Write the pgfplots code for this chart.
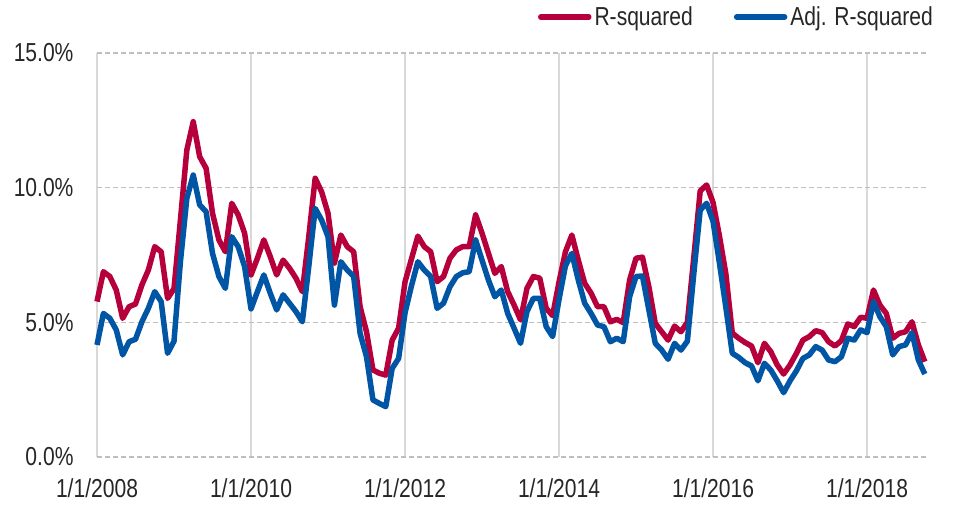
\documentclass[border=0pt]{standalone}
\usepackage{fontspec}
\setmainfont{Liberation Sans}[FakeStretch=0.81]
\usepackage{pgfplots}
\usepackage{pgfplotstable}
\pgfplotsset{compat=1.18}
\definecolor{rsq}{HTML}{B5003C}
\definecolor{arsq}{HTML}{0055A5}
\definecolor{vgrid}{HTML}{D9D9D9}
\definecolor{hgrid}{HTML}{BFBFBF}

\pgfplotstableread{
i r a
0 5.77 4.16
1 6.88 5.33
2 6.70 5.15
3 6.20 4.72
4 5.15 3.79
5 5.58 4.28
6 5.68 4.37
7 6.39 5.02
8 6.94 5.52
9 7.81 6.14
10 7.62 5.77
11 5.89 3.85
12 6.25 4.30
13 8.80 7.25
14 11.40 9.60
15 12.45 10.47
16 11.15 9.36
17 10.72 9.11
18 9.05 7.56
19 8.06 6.70
20 7.62 6.26
21 9.42 8.18
22 8.99 7.81
23 8.31 7.07
24 6.76 5.50
25 7.38 6.14
26 8.06 6.76
27 7.44 6.08
28 6.76 5.46
29 7.31 6.02
30 7.01 5.71
31 6.64 5.40
32 6.14 5.02
33 8.18 7.07
34 10.35 9.23
35 9.85 8.80
36 9.05 8.18
37 7.20 5.64
38 8.24 7.25
39 7.81 6.94
40 7.62 6.70
41 5.58 4.59
42 4.65 3.72
43 3.23 2.12
44 3.11 1.99
45 3.04 1.87
46 4.34 3.29
47 4.78 3.66
48 6.50 5.35
49 7.35 6.35
50 8.20 7.25
51 7.81 6.94
52 7.62 6.70
53 6.51 5.52
54 6.70 5.71
55 7.38 6.32
56 7.69 6.70
57 7.81 6.84
58 7.81 6.88
59 8.99 8.06
60 8.31 7.31
61 7.56 6.57
62 6.82 5.95
63 7.07 6.20
64 6.14 5.33
65 5.64 4.78
66 5.09 4.22
67 6.26 5.40
68 6.70 5.89
69 6.64 5.89
70 5.52 4.84
71 5.25 4.47
72 6.50 5.85
73 7.62 7.10
74 8.24 7.56
75 7.31 6.57
76 6.45 5.71
77 6.08 5.33
78 5.58 4.90
79 5.58 4.84
80 5.02 4.28
81 5.11 4.41
82 4.99 4.28
83 6.57 5.95
84 7.38 6.70
85 7.42 6.72
86 6.32 5.46
87 4.96 4.22
88 4.65 3.97
89 4.34 3.63
90 4.86 4.22
91 4.65 3.97
92 5.00 4.30
93 7.40 6.80
94 9.88 9.17
95 10.10 9.42
96 9.45 8.75
97 8.20 7.20
98 6.80 5.55
99 4.60 3.85
100 4.41 3.70
101 4.25 3.50
102 4.12 3.38
103 3.50 2.83
104 4.22 3.48
105 3.91 3.23
106 3.42 2.83
107 3.08 2.39
108 3.42 2.83
109 3.85 3.20
110 4.34 3.66
111 4.47 3.79
112 4.69 4.10
113 4.62 3.97
114 4.28 3.60
115 4.12 3.54
116 4.32 3.72
117 4.94 4.41
118 4.84 4.34
119 5.19 4.72
120 5.15 4.62
121 6.20 5.77
122 5.64 5.21
123 5.33 4.84
124 4.41 3.79
125 4.59 4.10
126 4.65 4.16
127 5.02 4.62
128 4.16 3.60
129 3.54 3.08
}\datatable

\begin{document}
\begin{tikzpicture}
\useasboundingbox (0,0) rectangle (953bp,510bp);
\begin{axis}[
  at={(97bp,53bp)}, anchor=south west,
  scale only axis, width=831bp, height=404bp,
  xmin=0, xmax=129.5, ymin=0, ymax=15,
  axis line style={draw=none},
  tick style={draw=none},
  xtick={0,24,48,72,96,120},
  xticklabels={1/1/2008,1/1/2010,1/1/2012,1/1/2014,1/1/2016,1/1/2018},
  ytick={0,5,10,15},
  /pgf/number format/assume math mode=true,
  yticklabel={\pgfmathprintnumber[fixed,fixed zerofill,precision=1]{\tick}\%},
  ticklabel style={font=\fontsize{26bp}{31bp}\selectfont, text=black!85},
  yticklabel style={xshift=-20bp},
  xticklabel style={yshift=-18bp},
  xmajorgrids, ymajorgrids,
  x grid style={vgrid, line width=2bp},
  y grid style={hgrid, line width=1.5bp, dash pattern=on 5bp off 3bp},
  clip=false,
  legend columns=2,
  legend style={at={(1.0096,1.089)}, anchor=east, draw=none, fill=none,
    inner sep=0pt, font=\fontsize{26bp}{31bp}\selectfont,
    text=black!85,
    nodes={inner sep=3bp},
    /tikz/every even column/.append style={column sep=38bp}},
  legend image code/.code={\draw[#1, line cap=round] (0bp,0bp) -- (48bp,0bp);},
]
\addplot[rsq, line width=5.5bp, line join=round, no markers] table[x=i, y=r] {\datatable};
\addlegendentry{R-squared}
\addplot[arsq, line width=5.5bp, line join=round, no markers] table[x=i, y=a] {\datatable};
\addlegendentry{Adj. R-squared}
\end{axis}
\end{tikzpicture}
\end{document}
